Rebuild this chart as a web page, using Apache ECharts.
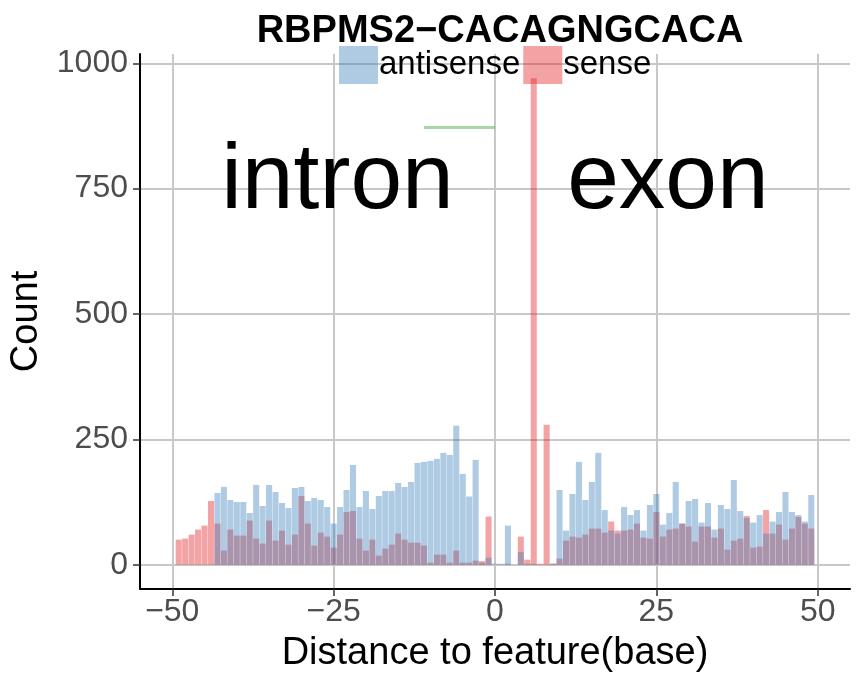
<!DOCTYPE html>
<html>
<head>
<meta charset="utf-8">
<script src="https://cdn.jsdelivr.net/npm/echarts@6/dist/echarts.min.js"></script>
<style>
html,body{margin:0;padding:0;background:#fff;}
#chart{width:864px;height:678px;}
</style>
</head>
<body>
<div id="chart"></div>
<script>
// Distance positions (bar centres)
const positions = [];
for (let p = -49; p <= 49; p++) positions.push(p);

// antisense counts, positions -49 .. 49
const antisense = [
  0, 0, 0, 0, 0, 0, 143, 155, 129, 125,
  125, 103, 159, 117, 159, 145, 123, 113, 153, 155,
  127, 133, 129, 115, 82, 115, 149, 199, 115, 147,
  111, 137, 147, 147, 163, 155, 165, 203, 205, 207,
  211, 223, 219, 277, 181, 136, 209, 4, 14, 2,
  2, 78, 0, 25, 2, 2, 0, 0, 2, 149,
  68, 141, 205, 129, 165, 223, 109, 68, 62, 115,
  99, 109, 68, 119, 141, 80, 103, 165, 82, 127,
  131, 84, 123, 70, 119, 111, 169, 107, 93, 84,
  99, 62, 86, 105, 145, 105, 99, 86, 139
];

// sense counts, positions -49 .. 49
const sense = [
  50, 52, 60, 70, 78, 127, 82, 28, 70, 58,
  58, 88, 52, 42, 88, 48, 68, 40, 60, 137,
  82, 38, 64, 56, 34, 60, 105, 107, 52, 28,
  50, 18, 32, 40, 62, 50, 44, 44, 38, 4,
  20, 20, 4, 28, 4, 4, 8, 7, 96, 0,
  0, 2, 0, 56, 10, 970, 2, 279, 2, 12,
  48, 56, 54, 60, 72, 72, 64, 86, 68, 68,
  70, 82, 54, 52, 105, 56, 70, 72, 82, 76,
  46, 76, 76, 54, 72, 30, 48, 52, 97, 34,
  36, 109, 62, 80, 50, 72, 95, 82, 72
];

const xTicks = [-50, -25, 0, 25, 50];
const yTicks = [0, 250, 500, 750, 1000];

// annotation: green segment and region labels
const segmentX = [-11, 0];
const segmentY = 872;
const regionLabels = [
  { text: 'intron', x: -24.4, y: 750 },
  { text: 'exon', x: 26.8, y: 750 }
];

const FONT = "'Liberation Sans', Arial, Helvetica, sans-serif";
const fmt = v => (v < 0 ? '\u2212' + Math.abs(v) : String(v));

const chart = echarts.init(document.getElementById('chart'), null, { renderer: 'canvas' });

const option = {
  backgroundColor: '#ffffff',
  animation: false,
  title: {
    text: 'RBPMS2\u2212CACAGNGCACA',
    left: 495,
    textAlign: 'center',
    top: 8,
    textStyle: { fontFamily: FONT, fontSize: 38, fontWeight: 'bold', color: '#000' }
  },
  legend: {
    data: ['antisense', 'sense'],
    left: 339,
    top: 46,
    itemWidth: 39,
    itemHeight: 38,
    itemGap: 3,
    icon: 'rect',
    padding: 0,
    textStyle: { fontFamily: FONT, fontSize: 33, color: '#000', padding: [0, 0, 0, -4] }
  },
  grid: { left: 140, right: 14, top: 54, bottom: 89, outerBoundsMode: 'none', containLabel: false },
  xAxis: {
    type: 'value',
    min: -55,
    max: 55,
    name: 'Distance to feature(base)',
    nameLocation: 'middle',
    nameGap: 46,
    nameTextStyle: { fontFamily: FONT, fontSize: 38, color: '#000' },
    axisLine: { show: true, onZero: false, lineStyle: { color: '#000', width: 2 } },
    axisTick: { show: true, length: 7, customValues: xTicks, lineStyle: { color: '#333', width: 1.5 } },
    axisLabel: { customValues: xTicks, formatter: fmt, margin: 7, fontFamily: FONT, fontSize: 32, color: '#4d4d4d' },
    splitLine: { show: true, lineStyle: { color: '#c8c8c8', width: 2 } }
  },
  yAxis: {
    type: 'value',
    min: -48.5,
    max: 1018.5,
    name: 'Count',
    nameLocation: 'middle',
    nameGap: 92,
    nameRotate: 90,
    nameTextStyle: { fontFamily: FONT, fontSize: 38, color: '#000' },
    axisLine: { show: true, onZero: false, lineStyle: { color: '#000', width: 2 } },
    axisTick: { show: true, length: 7, customValues: yTicks, lineStyle: { color: '#333', width: 1.5 } },
    axisLabel: { customValues: yTicks, formatter: v => String(v), margin: 12, fontFamily: FONT, fontSize: 32, color: '#4d4d4d' },
    splitLine: { show: true, lineStyle: { color: '#c8c8c8', width: 2 } }
  },
  series: [
    {
      name: 'sense',
      type: 'bar',
      data: positions.map((p, i) => [p, sense[i]]),
      barWidth: '94%',
      barGap: '-100%',
      itemStyle: { color: 'rgba(228,26,28,0.4)' },
      z: 2
    },
    {
      name: 'antisense',
      type: 'bar',
      data: positions.map((p, i) => [p, antisense[i]]),
      barWidth: '94%',
      barGap: '-100%',
      itemStyle: { color: 'rgba(55,126,184,0.4)' },
      z: 3
    },
    {
      name: 'segment',
      type: 'line',
      data: segmentX.map(x => [x, segmentY]),
      symbol: 'none',
      lineStyle: { color: 'rgba(77,175,74,0.5)', width: 3 },
      z: 4
    },
    {
      name: 'regions',
      type: 'scatter',
      symbolSize: 0,
      itemStyle: { opacity: 1 },
      data: regionLabels.map(r => ({ value: [r.x, r.y], name: r.text })),
      label: {
        show: true,
        position: 'inside',
        formatter: p => p.name,
        fontFamily: FONT,
        fontSize: 93,
        color: '#000000',
        opacity: 1,
        offset: [0, -6]
      },
      emphasis: { disabled: true },
      z: 5
    }
  ]
};

chart.setOption(option);
</script>
</body>
</html>
